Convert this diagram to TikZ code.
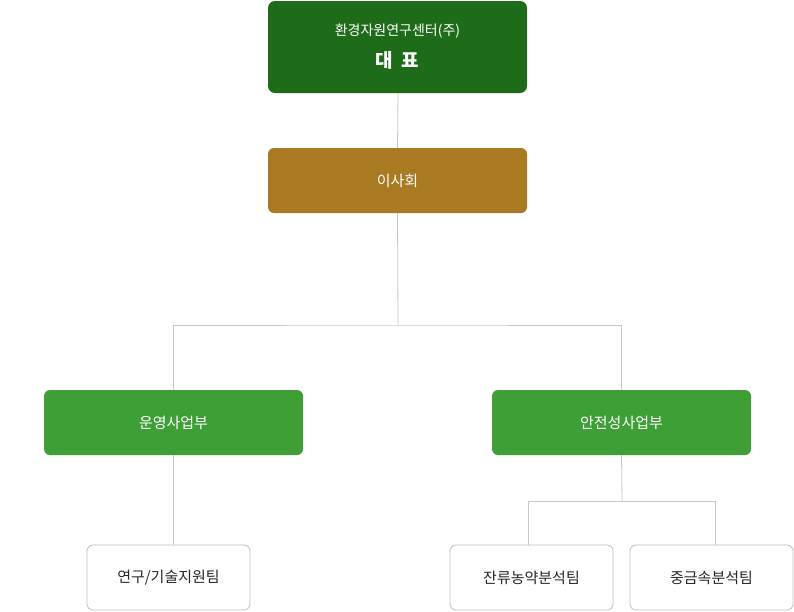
\documentclass[tikz,border=0pt]{standalone}
\usepackage{fontspec}
\setmainfont{Noto Sans CJK KR}
\begin{document}
\begin{tikzpicture}[x=1pt,y=-1pt,
 box/.style={rounded corners=6pt,font=\fontsize{15}{18}\selectfont},
 filled/.style={box,text=white},
 team/.style={box,draw=black!25,fill=white,text=black!85,line width=0.8pt},
 conn/.style={draw=black!22,line width=0.8pt}]
\useasboundingbox (0,0) rectangle (794,611);
\definecolor{dg}{HTML}{1E6B19}\definecolor{br}{HTML}{A97A22}\definecolor{gr}{HTML}{3F9F37}
\fill[dg,rounded corners=7pt] (268,1) rectangle (527,93);
\node[text=white,font=\fontsize{14}{16}\selectfont] (ceo) at (397.5,31) {환경자원연구센터(주)};
\node[text=white,font=\fontsize{19}{22}\selectfont\bfseries] (ceo2) at (397.5,60) {대\ \ 표};
\coordinate (ceoB) at (398,93);
\node[filled,fill=br,minimum width=259pt,minimum height=65pt] (bd) at (397.5,180.5) {이사회};
\node[filled,fill=gr,minimum width=259pt,minimum height=65pt] (op) at (173.5,422.5) {운영사업부};
\node[filled,fill=gr,minimum width=259pt,minimum height=65pt] (sf) at (621.5,422.5) {안전성사업부};
\node[team,minimum width=163pt,minimum height=65pt] (t1) at (168.5,577.5) {연구/기술지원팀};
\node[team,minimum width=163pt,minimum height=65pt] (t2) at (531.5,577.5) {잔류농약분석팀};
\node[team,minimum width=163pt,minimum height=65pt] (t3) at (711.5,577.5) {중금속분석팀};
\draw[conn] (ceoB) -- (bd.north);
\draw[conn] (bd.south) -- (398,325) coordinate (j1);
\draw[conn] (op.north) |- (j1) -| (sf.north);
\draw[conn] (op.south) -- (t1.north -| op.south);
\draw[conn] (sf.south) -- (622,501) coordinate (j2);
\draw[conn] (t2.north -| 528,0) |- (j2) -| (t3.north -| 715,0);
\end{tikzpicture}
\end{document}
